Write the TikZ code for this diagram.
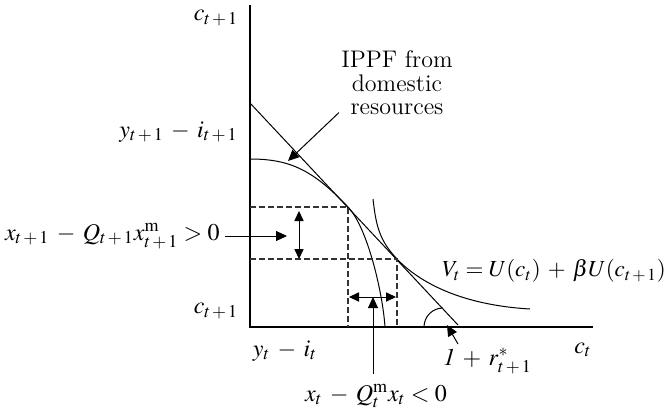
\documentclass[tikz,border=0pt]{standalone}
\usepackage{mathptmx}
\usetikzlibrary{arrows.meta}
\newcommand{\wideops}{\medmuskip=5.5mu plus 1mu\relax}

\begin{document}
\begin{tikzpicture}[
  x=0.5pt, y=-0.5pt,
  lbl/.style     = {inner sep=0pt, font=\fontsize{12}{11.8}\selectfont\wideops},
  axisln/.style  = {line width=0.65pt},
  curve/.style   = {line width=0.5pt},
  guide/.style   = {dash pattern=on 2.8pt off 1.7pt, line width=0.55pt, draw=black!80},
  pointer/.style = {-{Triangle[length=5.5pt,width=5pt]}, line width=0.5pt},
  twoway/.style  = {{Triangle[length=5pt,width=4.6pt]}-{Triangle[length=5pt,width=4.6pt]}, line width=0.5pt},
]
\useasboundingbox (0,0) rectangle (666,414);

% axes and key points
\coordinate (O)    at (250,327);
\coordinate (ytop) at (250,5);
\coordinate (xend) at (593,327);
\coordinate (lineA) at (250,103);
\coordinate (lineB) at (458,325);
\coordinate (ppfA) at (250,159);
\coordinate (tanP) at (348,207);
\coordinate (ppfB) at (385,327);
\coordinate (icA)  at (373,199);
\coordinate (tanC) at (397,259);
\coordinate (icB)  at (530,309);

\draw[axisln] (ytop) -- (O) -- (xend);

% world price line, IPPF and indifference curve
\draw[curve] (lineA) -- (lineB);
\draw[curve] (ppfA) .. controls (290,159) and (313,170) .. (tanP)
                    .. controls (368,228) and (383,295) .. (ppfB);
\draw[curve] (icA) .. controls (376,225) and (379,240) .. (tanC)
                   .. controls (420,283) and (462,305) .. (icB);

% dashed guides
\draw[guide] (O |- tanP) -- (tanP) -- (tanP |- O);
\draw[guide] (O |- tanC) -- (tanC) -- (tanC |- O);

% angle mark
\draw[curve] (424,327) .. controls (424,316.5) and (432.5,308) .. (443,308);

% labels
\node[lbl] (cTop) at (216,18) {$c_{t\,+\,1}$};
\node[lbl, anchor=east] (yNext) at (238,132) {$y_{t\,+\,1} - i_{t\,+\,1}$};
\node[lbl, anchor=east] (nxNext) at (220,236) {$x_{t\,+\,1} - Q_{t\,+\,1}x^{\mathrm{m}}_{t\,+\,1} > 0$};
\node[lbl] (cLow) at (216,311) {$c_{t\,+\,1}$};
\node[lbl] (yNow) at (285,351) {$y_t - i_t$};
\node[lbl] (nxNow) at (376,396) {$x_t - Q^{\mathrm{m}}_t x_t < 0$};
\node[lbl] (cNow) at (583,350) {$c_t$};
\node[lbl, anchor=west] (rate) at (443,361) {$\mathit{1} + r^*_{t\,+\,1}$};
\node[lbl, anchor=west, font=\fontsize{11.5}{11.8}\selectfont\wideops] (util) at (442,271) {$V_t = U(c_t) + \beta U(c_{t\,+\,1})$};
\node[lbl, align=center] (ippf) at (397,83) {IPPF from\\domestic\\resources};

% pointers
\coordinate (ippfTip) at (288,161);
\coordinate (nxTip) at (287,236);
\coordinate (nxNowTip) at (373,297);
\coordinate (rateFoot) at (458,344);
\coordinate (rateTip) at (447,325);
\draw[pointer] ([shift={(-1pt,1.5pt)}]ippf.south west) -- (ippfTip);
\draw[pointer] ([xshift=2.5pt]nxNext.east |- nxTip) -- (nxTip);
\draw[pointer] ([yshift=5pt]nxNowTip |- nxNow.north) -- (nxNowTip);
\draw[pointer] (rateFoot) -- (rateTip);

% two-way arrows
\coordinate (exTop) at (299,211);
\coordinate (exBot) at (299,259);
\coordinate (imL) at (349,297);
\coordinate (imR) at (396,297);
\draw[twoway] (exTop) -- (exBot);
\draw[twoway] (imL) -- (imR);
\end{tikzpicture}
\end{document}
